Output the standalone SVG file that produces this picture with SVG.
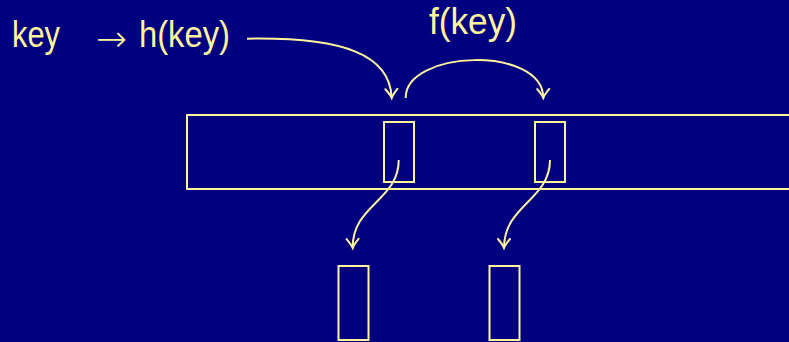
<svg xmlns="http://www.w3.org/2000/svg" width="789" height="342" viewBox="0 0 789 342">
<style>
.s{fill:none;stroke:#fff39c;stroke-width:2}
.t{fill:#fff39c;font-family:"Liberation Sans",Arial,sans-serif;font-size:36px}
.a{fill:#fff39c;font-family:"DejaVu Sans",sans-serif;font-size:36px;font-weight:200}
.c{fill:none;stroke:#fff39c;stroke-width:2;marker-end:url(#ah)}
</style>
<defs>
<marker id="ah" viewBox="-12 -8 14 16" refX="0" refY="0" markerWidth="14" markerHeight="16" markerUnits="userSpaceOnUse" orient="auto">
<path d="M-9,-6 Q-3,-1 0,0 Q-3,1 -9,6" fill="none" stroke="#fff39c" stroke-width="2" stroke-linecap="round"/>
</marker>
</defs>
<rect width="789" height="342" fill="#000080"/>
<g id="labels">
<text class="t" x="12" y="47" textLength="48" lengthAdjust="spacingAndGlyphs">key</text>
<text class="a" x="96" y="51" textLength="31" lengthAdjust="spacingAndGlyphs">→</text>
<text class="t" x="139" y="47" textLength="91" lengthAdjust="spacingAndGlyphs">h(key)</text>
<text class="t" x="429" y="34" textLength="88" lengthAdjust="spacingAndGlyphs">f(key)</text>
</g>
<g id="table"><rect class="s" x="187" y="115" width="620" height="74"/></g>
<g id="slot1"><rect class="s" x="384" y="122" width="30" height="60"/></g>
<g id="slot2"><rect class="s" x="535" y="122" width="30" height="60"/></g>
<g id="bucket1"><rect class="s" x="338.5" y="266" width="30" height="74"/></g>
<g id="bucket2"><rect class="s" x="489.5" y="266" width="30" height="74"/></g>
<g id="connectors">
<path class="c" d="M247,38.7 C 345,37 390,55 391.7,98"/>
<path class="c" d="M405.7,98 C 405,50 543,45 543.3,98"/>
<path class="c" d="M398.7,160 C 399,200 352,205 352.7,248"/>
<path class="c" d="M550,160 C 550,200 504,205 504,248"/>
</g>
</svg>
